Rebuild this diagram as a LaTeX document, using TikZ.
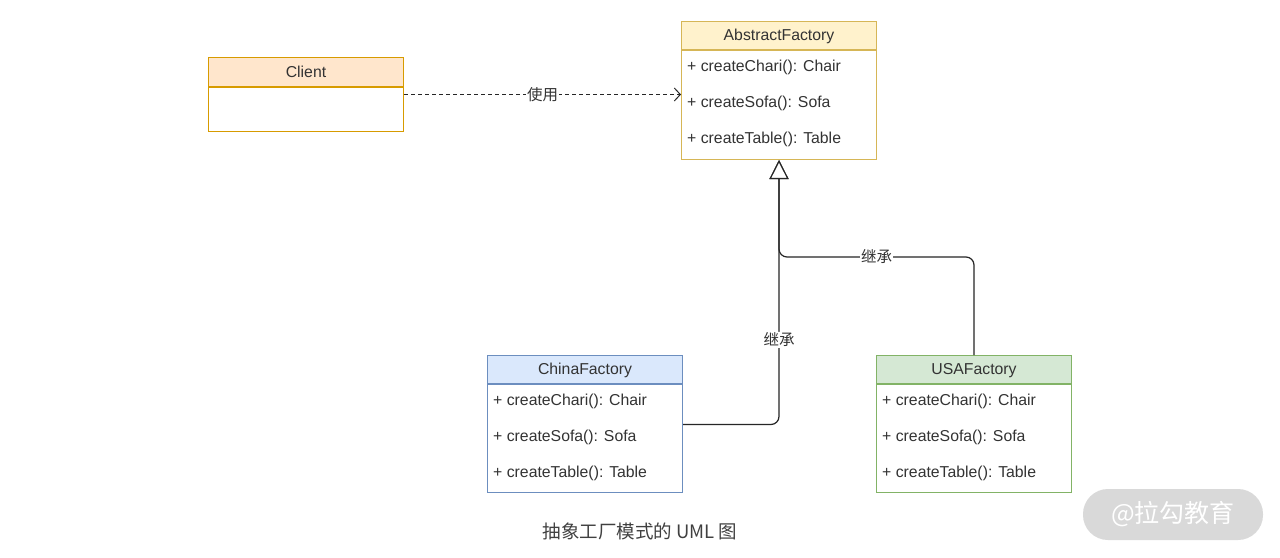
\documentclass[tikz,border=0pt]{standalone}
\usepackage{fontspec}
\setmainfont{Liberation Sans}
\newfontfamily\cjkfont{Noto Sans CJK SC}
\usetikzlibrary{arrows.meta,positioning}

\definecolor{clientfill}{HTML}{FFE6CC}
\definecolor{clientline}{HTML}{D79B00}
\definecolor{abstractfill}{HTML}{FFF2CC}
\definecolor{abstractline}{HTML}{D6B656}
\definecolor{chinafill}{HTML}{DAE8FC}
\definecolor{chinaline}{HTML}{6C8EBF}
\definecolor{usafill}{HTML}{D5E8D4}
\definecolor{usaline}{HTML}{82B366}
\definecolor{wirecolor}{HTML}{262626}
\definecolor{markgray}{HTML}{D9D9D9}

\tikzset{
  clshead/.style={draw, line width=1pt, minimum width=195pt, minimum height=28pt,
    inner sep=0pt, anchor=north west, text height=11pt, text depth=1pt,
    font=\fontsize{15.8}{18}\selectfont, text=black!80},
  clsbody/.style={draw, line width=1pt, fill=white, minimum width=195pt, inner sep=0pt, anchor=north},
  member/.style={anchor=west, inner sep=0pt, font=\fontsize{15.8}{18}\selectfont, text=black!80},
  wirelabel/.style={fill=white, inner sep=1pt, font=\cjkfont\fontsize{15.5}{18}\selectfont, text=black!80},
  usedep/.style={draw=wirecolor, line width=1pt, dash pattern=on 4pt off 3pt,
    -{Straight Barb[length=6pt, width=13pt]}},
  inherit/.style={draw=wirecolor, line width=1.2pt, rounded corners=8pt,
    -{Triangle[open, length=19pt, width=19pt, fill=white]}}
}

\begin{document}
\begin{tikzpicture}[x=1pt,y=-1pt]
\useasboundingbox[fill=white] (0,0) rectangle (1280,557);
% Drawing classes
% Class: Client
\node[clshead, draw=clientline, fill=clientfill, minimum height=29pt] (clienthead) at (208,57) {Client};
\node[clsbody, draw=clientline, minimum height=44pt] (clientbody) at (clienthead.south) {};
% Class: AbstractFactory
\node[clshead, draw=abstractline, fill=abstractfill] (afhead) at (681,21) {AbstractFactory};
\node[clsbody, draw=abstractline, minimum height=109pt] (afbody) at (afhead.south) {};
\node[member] (afchair) at (687,67.5) {+ createChari(): Chair};
\node[member] (afsofa) at (687,103.5) {+ createSofa(): Sofa};
\node[member] (aftable) at (687,139.5) {+ createTable(): Table};
% Class: ChinaFactory
\node[clshead, draw=chinaline, fill=chinafill] (chinahead) at (487,355) {ChinaFactory};
\node[clsbody, draw=chinaline, minimum height=108pt] (chinabody) at (chinahead.south) {};
\node[member] (chinachair) at (493,401) {+ createChari(): Chair};
\node[member] (chinasofa) at (493,437.5) {+ createSofa(): Sofa};
\node[member] (chinatable) at (493,473.5) {+ createTable(): Table};
% Class: USAFactory
\node[clshead, draw=usaline, fill=usafill] (usahead) at (876,355) {USAFactory};
\node[clsbody, draw=usaline, minimum height=108pt] (usabody) at (usahead.south) {};
\node[member] (usachair) at (882,401) {+ createChari(): Chair};
\node[member] (usasofa) at (882,437.5) {+ createSofa(): Sofa};
\node[member] (usatable) at (882,473.5) {+ createTable(): Table};
% Done with classes; drawing connectors
\coordinate (usestart) at ([yshift=15pt]clientbody.east);
\draw[usedep] (usestart) -- node[wirelabel] (uselabel) {使用} (usestart -| afbody.west);
\coordinate (chinastart) at ([yshift=14pt]chinabody.east);
\draw[inherit] (chinastart) -| node[wirelabel, pos=0.66] (chinalabel) {继承} (afbody.south);
\coordinate (usajoin) at (afbody.south |- 0,257);
\draw[inherit] (usahead.north) |- node[wirelabel, pos=0.75] (usalabel) {继承} (usajoin) -- (afbody.south);
% Done with connectors; drawing caption
\node[font=\cjkfont\fontsize{18.5}{22}\selectfont, text=black!75] (caption) at (640,531) {抽象工厂模式的 UML 图};
\node[fill=markgray, rounded corners=25pt, minimum width=180pt, minimum height=51pt, inner sep=0pt,
  font=\cjkfont\fontsize{25}{28}\selectfont, text=white] (watermark) at (1173,514.5) {@拉勾教育};
\end{tikzpicture}
\end{document}
